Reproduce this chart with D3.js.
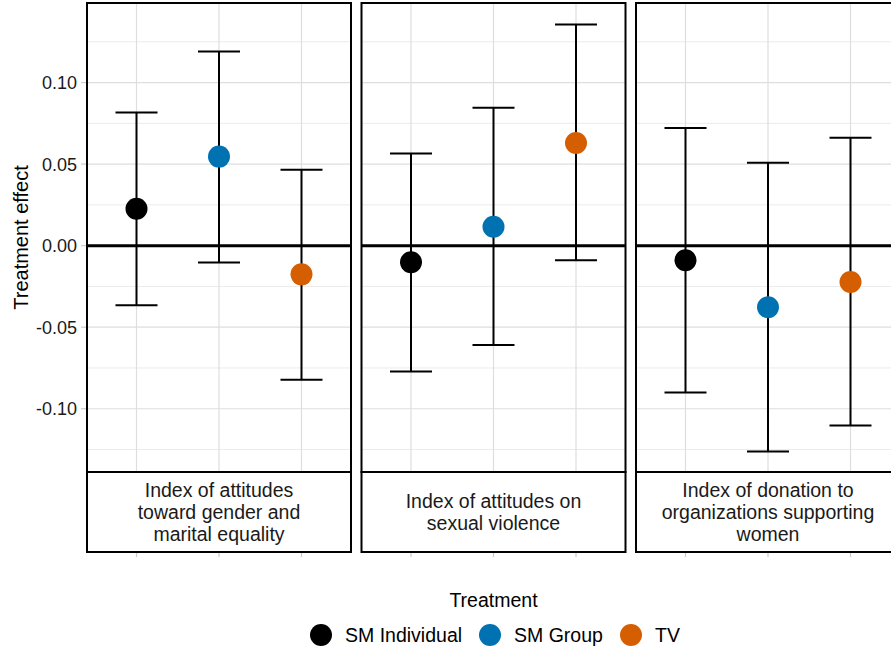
<!DOCTYPE html>
<html>
<head>
<meta charset="utf-8">
<script src="https://cdn.jsdelivr.net/npm/d3@7"></script>
<style>
  html, body { margin: 0; padding: 0; background: #fff; }
  svg { display: block; font-family: "Liberation Sans", Arial, sans-serif; }
</style>
</head>
<body>
<svg id="chart" width="891" height="651"></svg>
<script>
// Outcome facets (strip labels, one array entry per line)
const outcomes = ["gender", "violence", "donation"];
const outcomeLabels = [
  ["Index of attitudes", "toward gender and", "marital equality"],
  ["Index of attitudes on", "sexual violence"],
  ["Index of donation to", "organizations supporting", "women"]
];

// Treatment arms and their colours
const treatments = ["SM Individual", "SM Group", "TV"];
const treatmentColors = ["#000000", "#0072B2", "#D55E00"];

// Point estimates and 95% interval bounds, rows = outcomes, columns = treatments
const estimates = [
  [0.0226, 0.0546, -0.0176],
  [-0.0102, 0.0116, 0.0630],
  [-0.0090, -0.0378, -0.0223]
];
const lowerBounds = [
  [-0.0366, -0.0103, -0.0822],
  [-0.0771, -0.0609, -0.0090],
  [-0.0901, -0.1263, -0.1103]
];
const upperBounds = [
  [0.0817, 0.1191, 0.0466],
  [0.0565, 0.0845, 0.1356],
  [0.0722, 0.0508, 0.0662]
];

const yTicks = [-0.10, -0.05, 0.00, 0.05, 0.10];
const yMinorTicks = [-0.125, -0.075, -0.025, 0.025, 0.075, 0.125];

const svg = d3.select("#chart");

const panelTop = 3, panelBottom = 472, stripBottom = 552;

const facet = d3.scaleBand()
  .domain(outcomes)
  .range([87, 900])
  .paddingInner(10.5 / 274.5)
  .paddingOuter(0);

const y = d3.scaleLinear()
  .domain([-0.1388, 0.1488])
  .range([panelBottom, panelTop]);

const color = d3.scaleOrdinal().domain(treatments).range(treatmentColors);

const gridMajor = "#dedede", gridMinor = "#ebebeb";

outcomes.forEach((o, i) => {
  const x0 = facet(o), w = facet.bandwidth();
  const x = d3.scalePoint().domain(treatments).range([0, w]).padding(0.6);
  const g = svg.append("g").attr("transform", `translate(${x0},0)`);

  // minor and major horizontal grid
  g.selectAll("line.minor").data(yMinorTicks).join("line")
    .attr("x1", 0).attr("x2", w)
    .attr("y1", d => y(d)).attr("y2", d => y(d))
    .attr("stroke", gridMinor).attr("stroke-width", 1);
  g.selectAll("line.major").data(yTicks).join("line")
    .attr("x1", 0).attr("x2", w)
    .attr("y1", d => y(d)).attr("y2", d => y(d))
    .attr("stroke", gridMajor).attr("stroke-width", 1.2);
  // vertical grid at each treatment
  g.selectAll("line.vgrid").data(treatments).join("line")
    .attr("x1", d => x(d)).attr("x2", d => x(d))
    .attr("y1", panelTop).attr("y2", panelBottom)
    .attr("stroke", gridMajor).attr("stroke-width", 1.2);

  // zero reference line
  g.append("line")
    .attr("x1", 0).attr("x2", w)
    .attr("y1", y(0)).attr("y2", y(0))
    .attr("stroke", "#000").attr("stroke-width", 3);

  const rows = treatments.map((t, j) => ({
    t, est: estimates[i][j], lo: lowerBounds[i][j], hi: upperBounds[i][j]
  }));

  // error bars
  const capHalf = 21;
  const eb = g.selectAll("g.eb").data(rows).join("g");
  eb.append("line")
    .attr("x1", d => x(d.t)).attr("x2", d => x(d.t))
    .attr("y1", d => y(d.lo)).attr("y2", d => y(d.hi))
    .attr("stroke", "#000").attr("stroke-width", 2);
  eb.append("line")
    .attr("x1", d => x(d.t) - capHalf).attr("x2", d => x(d.t) + capHalf)
    .attr("y1", d => y(d.hi)).attr("y2", d => y(d.hi))
    .attr("stroke", "#000").attr("stroke-width", 2);
  eb.append("line")
    .attr("x1", d => x(d.t) - capHalf).attr("x2", d => x(d.t) + capHalf)
    .attr("y1", d => y(d.lo)).attr("y2", d => y(d.lo))
    .attr("stroke", "#000").attr("stroke-width", 2);

  // point estimates
  g.selectAll("circle").data(rows).join("circle")
    .attr("cx", d => x(d.t)).attr("cy", d => y(d.est))
    .attr("r", 11)
    .attr("fill", d => color(d.t));

  // panel border
  g.append("rect")
    .attr("x", 0).attr("y", panelTop)
    .attr("width", w).attr("height", panelBottom - panelTop)
    .attr("fill", "none").attr("stroke", "#000").attr("stroke-width", 2);

  // strip below the panel
  g.append("rect")
    .attr("x", 0).attr("y", panelBottom)
    .attr("width", w).attr("height", stripBottom - panelBottom)
    .attr("fill", "#fff").attr("stroke", "#000").attr("stroke-width", 2);
  const lines = outcomeLabels[i];
  const lh = 22;
  const mid = (panelBottom + stripBottom) / 2;
  const firstBase = mid - (lines.length - 1) * lh / 2 + 7;
  const st = g.append("text")
    .attr("text-anchor", "middle")
    .attr("font-size", 19.5)
    .attr("fill", "#1a1a1a");
  lines.forEach((s, k) => {
    st.append("tspan").attr("x", w / 2).attr("y", firstBase + k * lh).text(s);
  });

  // x ticks (no labels)
  g.selectAll("line.xtick").data(treatments).join("line")
    .attr("x1", d => x(d)).attr("x2", d => x(d))
    .attr("y1", stripBottom + 1).attr("y2", stripBottom + 5)
    .attr("stroke", "#cccccc").attr("stroke-width", 1.2);
});

// y axis ticks and labels
const yAxisG = svg.append("g");
yAxisG.selectAll("line").data(yTicks).join("line")
  .attr("x1", 81).attr("x2", 86)
  .attr("y1", d => y(d)).attr("y2", d => y(d))
  .attr("stroke", "#cccccc").attr("stroke-width", 1.2);
yAxisG.selectAll("text").data(yTicks).join("text")
  .attr("x", 77).attr("y", d => y(d))
  .attr("dy", "0.36em")
  .attr("text-anchor", "end")
  .attr("font-size", 18)
  .attr("fill", "#1a1a1a")
  .text(d => d3.format(".2f")(d).replace("−", "-"));

// axis titles
svg.append("text")
  .attr("transform", `translate(28,${(panelTop + panelBottom) / 2}) rotate(-90)`)
  .attr("text-anchor", "middle")
  .attr("font-size", 20)
  .attr("fill", "#000")
  .text("Treatment effect");

svg.append("text")
  .attr("x", 493.5).attr("y", 607)
  .attr("text-anchor", "middle")
  .attr("font-size", 19.5)
  .attr("fill", "#000")
  .text("Treatment");

// legend
const legendX = [321, 490, 631];
const legend = svg.append("g");
treatments.forEach((t, j) => {
  legend.append("circle")
    .attr("cx", legendX[j]).attr("cy", 635).attr("r", 11)
    .attr("fill", color(t));
  legend.append("text")
    .attr("x", legendX[j] + 24).attr("y", 635).attr("dy", "0.36em")
    .attr("font-size", 19.5).attr("fill", "#000")
    .text(t);
});
</script>
</body>
</html>
